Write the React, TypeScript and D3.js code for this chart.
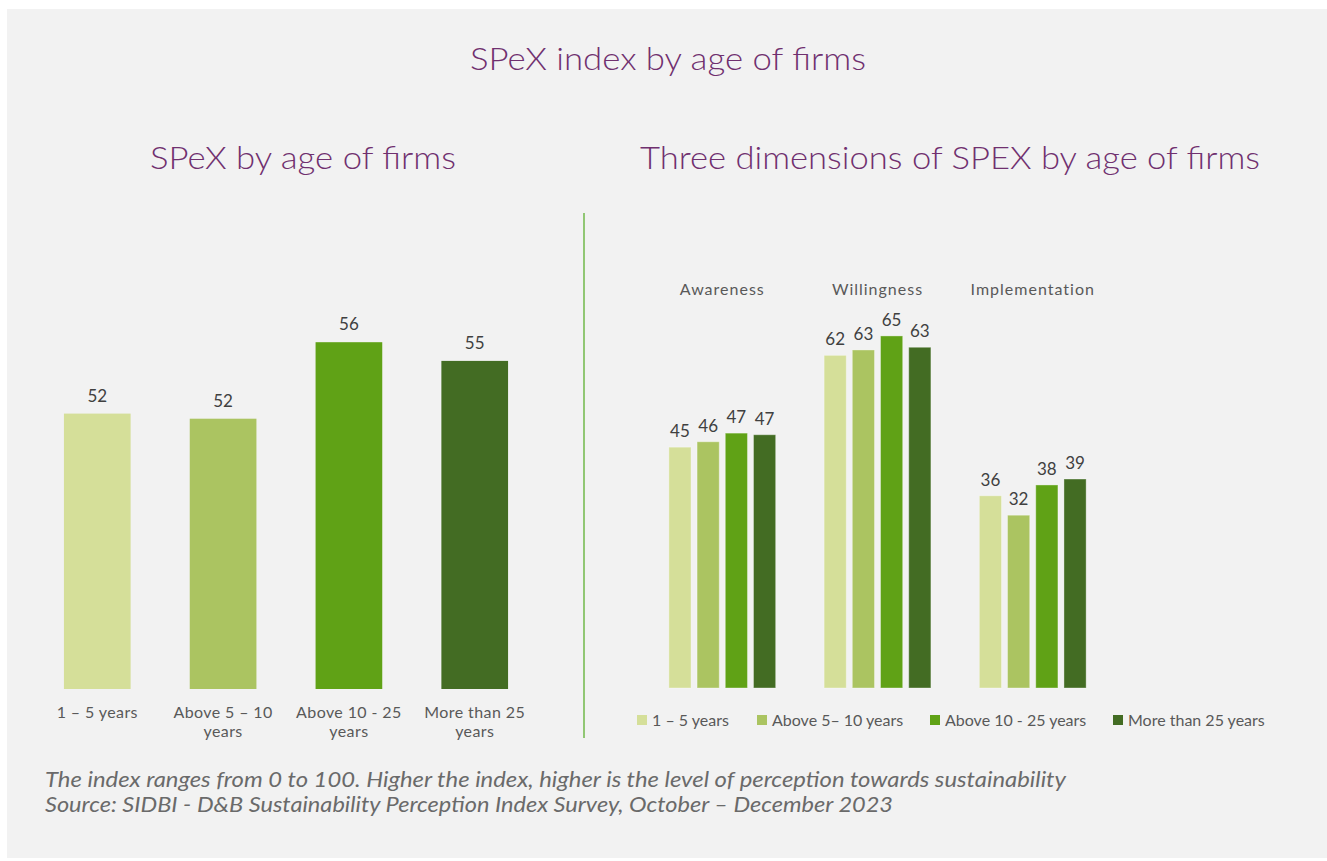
import React from "react";
import * as d3 from "d3";

const ageGroups = ["1 – 5 years", "Above 5 – 10 years", "Above 10 - 25 years", "More than 25 years"];
const ageLabelLines = [["1 – 5 years"], ["Above 5 – 10", "years"], ["Above 10 - 25", "years"], ["More than 25", "years"]];
const legendLabels = ["1 –  5 years", "Above 5–  10 years", "Above 10 - 25 years", "More than 25 years"];
const overallValues = [52.2, 51.9, 56.4, 55.3];
const dimensions = ["Awareness", "Willingness", "Implementation"];
const dimValues1to5 = [44.6, 61.6, 35.6];
const dimValues5to10 = [45.6, 62.6, 32.0];
const dimValues10to25 = [47.2, 65.2, 37.6];
const dimValuesOver25 = [46.9, 63.1, 38.7];
const colors = ["#D5DF99", "#ABC461", "#60A216", "#436C23"];

const W = 1327;
const H = 861;
const FONT = "Lato, 'Noto Sans', sans-serif";
const fmt = d3.format(".0f");

export default function App() {
  // Left chart
  const xL = d3.scaleBand<string>().domain(ageGroups).range([35, 537]).paddingInner(0.47).paddingOuter(0.23);
  const yL = d3.scaleLinear().domain([36, 60]).range([689, 281]);

  // Right chart
  const dimSeries = [dimValues1to5, dimValues5to10, dimValues10to25, dimValuesOver25];
  const x0 = d3.scaleBand<string>().domain(dimensions).range([591.25, 1163.75]).paddingInner(0.312).paddingOuter(0.5);
  const x1 = d3.scaleBand<number>().domain([0, 1, 2, 3]).range([0, x0.bandwidth()]).paddingInner(0.214);
  const yR = d3.scaleLinear().domain([0, 100]).range([688, 148]);

  const legendX = [637, 757, 930, 1113];

  return (
    <div style={{ position: "absolute", left: 0, top: 0 }}>
      <svg width={W} height={H} style={{ display: "block", fontFamily: FONT }}>
        <rect x={0} y={0} width={W} height={H} fill="#ffffff" />
        <rect x={7} y={9} width={W - 7} height={849} fill="#f2f2f2" />

        <text x={470} y={70} fontSize={32} fill="#70306f" fontWeight={300} textLength={396} lengthAdjust="spacingAndGlyphs">
          SPeX index by age of firms
        </text>
        <text x={150} y={169} fontSize={32} fill="#70306f" fontWeight={300} textLength={306} lengthAdjust="spacingAndGlyphs">
          SPeX by age of firms
        </text>
        <text x={640} y={169} fontSize={32} fill="#70306f" fontWeight={300} textLength={620} lengthAdjust="spacingAndGlyphs">
          Three dimensions of SPEX by age of firms
        </text>

        <line x1={584} x2={584} y1={213} y2={738} stroke="#70b84a" strokeWidth={1.5} />

        {/* Left chart */}
        {ageGroups.map((g, i) => {
          const x = xL(g)!;
          const bw = xL.bandwidth();
          const top = yL(overallValues[i]);
          return (
            <g key={g}>
              <rect x={x} y={top} width={bw} height={yL(36) - top} fill={colors[i]} />
              <text x={x + bw / 2} y={top - 12} textAnchor="middle" fontSize={17} fill="#404040">
                {fmt(overallValues[i])}
              </text>
              {ageLabelLines[i].map((line, j) => (
                <text key={j} x={x + bw / 2} y={718 + j * 19} textAnchor="middle" fontSize={16} fill="#595959" letterSpacing={0.4}>
                  {line}
                </text>
              ))}
            </g>
          );
        })}

        {/* Right chart */}
        {dimensions.map((d, di) => {
          const gx = x0(d)!;
          return (
            <g key={d} transform={`translate(${gx},0)`}>
              <text x={x0.bandwidth() / 2} y={295} textAnchor="middle" fontSize={16} fill="#595959" letterSpacing={1}>
                {d}
              </text>
              {dimSeries.map((series, si) => {
                const v = series[di];
                const top = yR(v);
                return (
                  <g key={si}>
                    <rect
                      x={x1(si)!}
                      y={top}
                      width={x1.bandwidth()}
                      height={yR(0) - top}
                      fill={colors[si]}
                      stroke="#ffffff"
                      strokeOpacity={0.35}
                      strokeWidth={1}
                    />
                    <text x={x1(si)! + x1.bandwidth() / 2} y={top - 10} textAnchor="middle" fontSize={17} fill="#404040">
                      {fmt(v)}
                    </text>
                  </g>
                );
              })}
            </g>
          );
        })}

        {/* Legend */}
        {legendLabels.map((l, i) => (
          <g key={l}>
            <rect x={legendX[i]} y={715} width={10} height={10} fill={colors[i]} />
            <text x={legendX[i] + 15} y={726} fontSize={16} fill="#595959">
              {l}
            </text>
          </g>
        ))}

        {/* Footer */}
        <text x={45} y={787} fontSize={20.5} fontStyle="italic" fill="#6a6a6a" textLength={1021} lengthAdjust="spacingAndGlyphs">
          The index ranges from 0 to 100. Higher the index, higher is the level of perception towards sustainability
        </text>
        <text x={45} y={812} fontSize={20.5} fontStyle="italic" fill="#6a6a6a" textLength={848} lengthAdjust="spacingAndGlyphs">
          Source: SIDBI - D&amp;B Sustainability Perception Index Survey, October – December 2023
        </text>
      </svg>
    </div>
  );
}
